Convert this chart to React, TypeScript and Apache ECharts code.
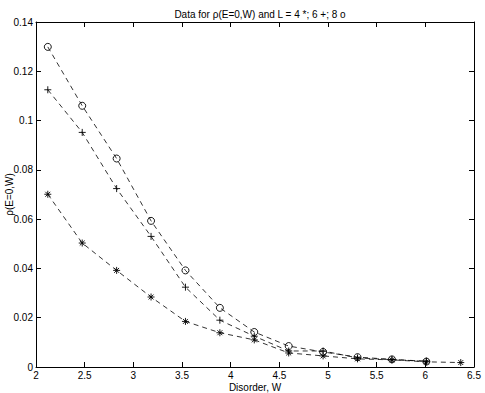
import React, { useEffect, useRef } from "react";
import * as echarts from "echarts";

const W = [2.1213, 2.4749, 2.8284, 3.182, 3.5355, 3.8891, 4.2426, 4.5962, 4.9497, 5.3033, 5.6569, 6.0104, 6.364];
const rhoL4 = [0.0701, 0.0503, 0.0392, 0.0284, 0.0185, 0.0139, 0.011, 0.0057, 0.0045, 0.0033, 0.0029, 0.0021, 0.0018];
const rhoL6 = [0.1125, 0.0952, 0.0724, 0.053, 0.0324, 0.019, 0.0125, 0.0065, 0.0065, 0.0037, 0.003, 0.0024];
const rhoL8 = [0.1299, 0.106, 0.0846, 0.0593, 0.0392, 0.024, 0.0142, 0.0085, 0.0061, 0.004, 0.0031, 0.0022];

const titleText = "Data for \u03c1(E=0,W) and L = 4 *; 6 +; 8 o";
const xName = "Disorder, W";
const yName = "\u03c1(E=0,W)";

const FONT = "'Liberation Sans', Arial, Helvetica, sans-serif";

const plusPath = "path://M0,5L10,5M5,0L5,10";
const starPath = "path://M0,5L10,5M5,0L5,10M1.5,1.5L8.5,8.5M1.5,8.5L8.5,1.5";

function pairs(ys: number[]) {
  return ys.map((y, i) => [W[i], y]);
}

export default function App() {
  const ref = useRef<HTMLDivElement>(null);
  useEffect(() => {
    if (!ref.current) return;
    const chart = echarts.init(ref.current, undefined, { renderer: "svg" });
    const axisText = { color: "#000", fontFamily: FONT, fontSize: 10 };
    const lineStyle = { color: "#000", width: 0.8, type: [5, 4] as any };
    const mkSeries = (data: number[], symbol: string, size: number, name: string) => ({
      type: "line",
      name,
      data: pairs(data),
      symbol,
      symbolSize: size,
      showAllSymbol: true,
      lineStyle,
      itemStyle: { color: symbol === "circle" ? "rgba(0,0,0,0)" : "#000", borderColor: "#000", borderWidth: 0.9 },
      emphasis: { disabled: true },
      z: 3,
    });
    chart.setOption({
      animation: false,
      backgroundColor: "#fff",
      title: {
        text: titleText,
        left: 255,
        textAlign: "center",
        top: 4,
        textStyle: { color: "#000", fontFamily: FONT, fontSize: 10, fontWeight: "normal" },
      },
      grid: { left: 36, right: 11, top: 22, bottom: 26, containLabel: false, outerBoundsMode: "none" },
      xAxis: [
        {
          type: "value",
          min: 2,
          max: 6.5,
          interval: 0.5,
          name: xName,
          nameLocation: "middle",
          nameGap: 15,
          nameMoveOverlap: false,
          nameTextStyle: axisText,
          axisLine: { onZero: false, lineStyle: { color: "#000", width: 1 } },
          axisTick: { inside: true, length: 5, lineStyle: { color: "#000" } },
          axisLabel: { ...axisText, margin: 3 },
          splitLine: { show: false },
        },
        {
          type: "value",
          position: "top",
          min: 2,
          max: 6.5,
          interval: 0.5,
          axisLine: { onZero: false, lineStyle: { color: "#000", width: 1 } },
          axisTick: { inside: true, length: 5, lineStyle: { color: "#000" } },
          axisLabel: { show: false },
          splitLine: { show: false },
        },
      ],
      yAxis: [
        {
          type: "value",
          min: 0,
          max: 0.14,
          interval: 0.02,
          name: yName,
          nameLocation: "middle",
          nameGap: 22,
          nameMoveOverlap: false,
          nameTextStyle: axisText,
          axisLine: { onZero: false, show: true, lineStyle: { color: "#000", width: 1 } },
          axisTick: { show: true, inside: true, length: 5, lineStyle: { color: "#000" } },
          axisLabel: { ...axisText, margin: 3 },
          splitLine: { show: false },
        },
        {
          type: "value",
          position: "right",
          min: 0,
          max: 0.14,
          interval: 0.02,
          axisLine: { onZero: false, show: true, lineStyle: { color: "#000", width: 1 } },
          axisTick: { show: true, inside: true, length: 5, lineStyle: { color: "#000" } },
          axisLabel: { show: false },
          splitLine: { show: false },
        },
      ],
      series: [
        mkSeries(rhoL4, starPath, 7, "L=4"),
        mkSeries(rhoL6, plusPath, 7, "L=6"),
        mkSeries(rhoL8, "circle", 7, "L=8"),
      ],
    });
    return () => chart.dispose();
  }, []);
  return <div ref={ref} style={{ width: 485, height: 393, position: "absolute", left: 0, top: 0 }} />;
}
